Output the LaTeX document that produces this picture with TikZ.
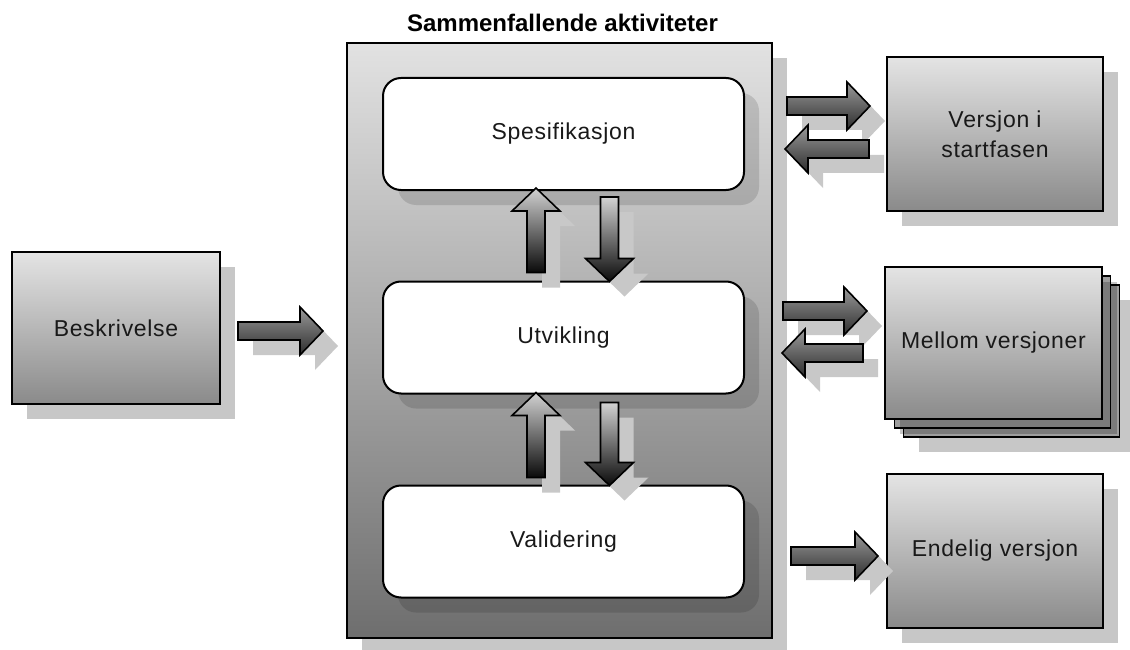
\documentclass[tikz,border=0pt]{standalone}
\usepackage{fontspec}
\setmainfont{Liberation Sans}
\usetikzlibrary{calc,shadows}

\definecolor{boxtop}{HTML}{E4E4E4}
\definecolor{boxbot}{HTML}{8A8A8A}
\definecolor{maintop}{HTML}{E2E2E2}
\definecolor{mainbot}{HTML}{6E6E6E}
\definecolor{stackgray}{HTML}{9E9E9E}
\definecolor{arrowshade}{HTML}{C8C8C8}
\definecolor{hartop}{HTML}{9A9A9A}
\definecolor{harbot}{HTML}{2C2C2C}
\definecolor{vartop}{HTML}{D2D2D2}
\definecolor{varbot}{HTML}{0A0A0A}

% horizontal block arrow: style, tail, tip, offset
\newcommand\hblock[4]{%
  \path[#1] let \p1=($(#2)+(#4,#4)$), \p2=($(#3)+(#4,#4)$),
                \p3=($(#3)!23pt!(#2)+(#4,#4)$) in
    (\x1,{\y1+9pt}) -- (\x3,{\y1+9pt}) -- (\x3,{\y1+24pt}) -- (\x2,\y1)
    -- (\x3,{\y1-24pt}) -- (\x3,{\y1-9pt}) -- (\x1,{\y1-9pt}) -- cycle;}
% vertical block arrow: style, tail, tip, offset
\newcommand\vblock[4]{%
  \path[#1] let \p1=($(#2)+(#4,#4)$), \p2=($(#3)+(#4,#4)$),
                \p3=($(#3)!23pt!(#2)+(#4,#4)$) in
    ({\x1+9pt},\y1) -- ({\x1+9pt},\y3) -- ({\x1+24pt},\y3) -- (\x1,\y2)
    -- ({\x1-24pt},\y3) -- ({\x1-9pt},\y3) -- ({\x1-9pt},\y1) -- cycle;}

\begin{document}
\begin{tikzpicture}[x=1pt,y=-1pt,
  every node/.style={inner sep=0pt, outer sep=0pt},
  txt/.style={font=\fontsize{23}{30}\selectfont\addfontfeatures{LetterSpace=3}, text=black!90},
  shade/.style={drop shadow={shadow xshift=15pt, shadow yshift=-15pt, fill=black, opacity=0.22}},
  softshade/.style={drop shadow={shadow xshift=15pt, shadow yshift=-15pt, fill=black, opacity=0.13}},
  outbox/.style={shade, txt, draw=black, line width=2pt, top color=boxtop, bottom color=boxbot,
    minimum width=216pt, minimum height=154pt, align=center},
  stackbox/.style={draw=black, line width=1.6pt, fill=stackgray,
    minimum width=216pt, minimum height=152pt},
  container/.style={shade, draw=black, line width=2pt, top color=maintop, bottom color=mainbot,
    minimum width=425pt, minimum height=595pt},
  phase/.style={softshade, txt, draw=black, line width=2pt, fill=white, rounded corners=18pt,
    minimum width=361pt, minimum height=112pt},
  harrow/.style={draw=black, line width=1.6pt, top color=hartop, bottom color=harbot},
  varrow/.style={draw=black, line width=1.6pt, top color=vartop, bottom color=varbot},
  arrowshadow/.style={fill=arrowshade}]

\useasboundingbox (0,0) rectangle (1130,650);

% left input box
\node[outbox, minimum width=208pt, minimum height=152pt] (besk) at (116,328) {Beskrivelse};

% container with the three concurrent activities
\node[container] (main) at (559.5,340.5) {};
\node[font=\bfseries\fontsize{24}{28}\selectfont] (title) at ($(main.north)+(3,-20)$)
  {Sammenfallende aktiviteter};
\node[phase] (spes) at (563.5,134) {Spesifikasjon};
\node[phase] (utv) at (563.5,337.5) {Utvikling};
\node[phase] (val) at (563.5,541.5) {Validering};

% output versions
\node[outbox] (vers) at (995,134) {Versjon i\\startfasen};
\coordinate (mc) at (993.5,343);
\node[stackbox, shade] (m3) at ($(mc)+(18,18)$) {};
\node[stackbox] (m2) at ($(mc)+(9,9)$) {};
\node[outbox, drop shadow={opacity=0}, minimum width=217pt, minimum height=152pt] (mellom) at (mc) {Mellom versjoner};
\node[outbox] (endelig) at (995,551) {Endelig versjon};

% arrow end points
\coordinate (a1s) at ($(besk.east)+(18,3)$);
\coordinate (a1e) at ($(main.west |- a1s)+(-24,0)$);
\coordinate (a2s) at ($(main.east |- vers.center)+(15,-28)$);
\coordinate (a2e) at ($(vers.west |- a2s)+(-17,0)$);
\coordinate (a3s) at ($(vers.west)+(-18,15)$);
\coordinate (a3e) at ($(main.east |- a3s)+(13,0)$);
\coordinate (a4s) at ($(main.east |- mellom.center)+(11,-32)$);
\coordinate (a4e) at ($(mellom.west |- a4s)+(-18,0)$);
\coordinate (a5s) at ($(mellom.west)+(-22,10)$);
\coordinate (a5e) at ($(main.east |- a5s)+(10,0)$);
\coordinate (a6s) at ($(main.east |- endelig.center)+(19,5)$);
\coordinate (a6e) at ($(endelig.west |- a6s)+(-9,0)$);
\coordinate (a7s) at ($(utv.north)+(-27.5,-9)$);
\coordinate (a7e) at ($(a7s |- spes.south)+(0,-2)$);
\coordinate (a8s) at ($(spes.south)+(46,7)$);
\coordinate (a8e) at (a8s |- utv.north);
\coordinate (a9s) at ($(val.north)+(-27.5,-8)$);
\coordinate (a9e) at ($(a9s |- utv.south)+(0,-1)$);
\coordinate (a10s) at ($(utv.south)+(46,9)$);
\coordinate (a10e) at (a10s |- val.north);

% arrow shadows
\foreach \s/\e in {a1s/a1e,a2s/a2e,a3s/a3e,a4s/a4e,a5s/a5e,a6s/a6e}
  {\hblock{arrowshadow}{\s}{\e}{15}}
\foreach \s/\e in {a7s/a7e,a8s/a8e,a9s/a9e,a10s/a10e}
  {\vblock{arrowshadow}{\s}{\e}{15}}

% arrows
\foreach \s/\e in {a1s/a1e,a2s/a2e,a3s/a3e,a4s/a4e,a5s/a5e,a6s/a6e}
  {\hblock{harrow}{\s}{\e}{0}}
\foreach \s/\e in {a7s/a7e,a8s/a8e,a9s/a9e,a10s/a10e}
  {\vblock{varrow}{\s}{\e}{0}}

\end{tikzpicture}
\end{document}
